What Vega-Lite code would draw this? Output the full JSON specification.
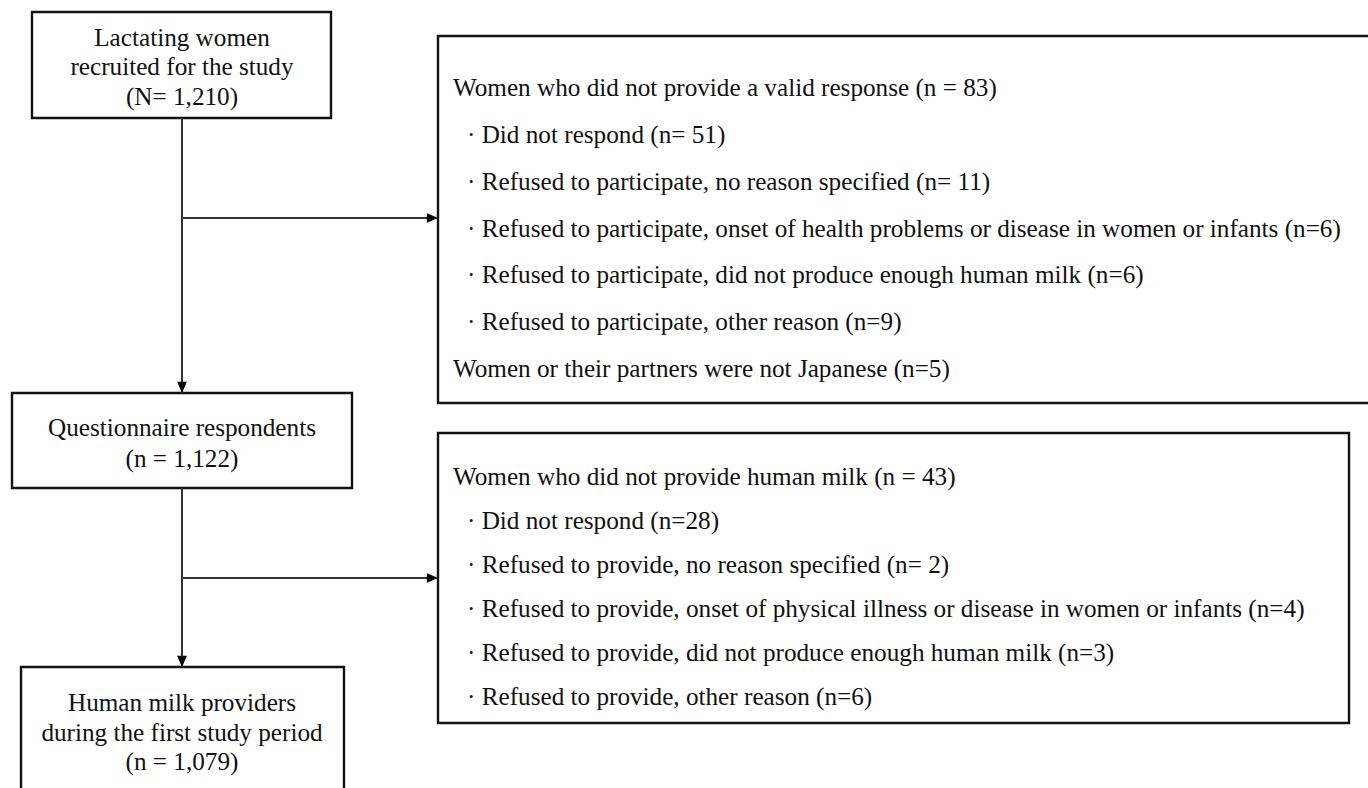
{
  "$schema": "https://vega.github.io/schema/vega-lite/v6.json",
  "width": 1368,
  "height": 788,
  "padding": 0,
  "autosize": {"type": "none"},
  "background": "white",
  "config": {"view": {"stroke": null}},
  "datasets": {
    "boxes": [
      {"box": "recruited", "left": 32, "right": 331, "top": 12, "bottom": 118},
      {"box": "excluded1", "left": 438, "right": 1380, "top": 36, "bottom": 403},
      {"box": "respondents", "left": 12, "right": 352, "top": 393, "bottom": 488},
      {"box": "excluded2", "left": 438, "right": 1349, "top": 433, "bottom": 723},
      {"box": "providers", "left": 21, "right": 344, "top": 667, "bottom": 800}
    ],
    "edges": [
      {"from": "recruited", "x0": 182, "y0": 118, "x1": 182, "y1": 393},
      {"from": "recruited", "x0": 182, "y0": 218, "x1": 432, "y1": 218},
      {"from": "respondents", "x0": 182, "y0": 488, "x1": 182, "y1": 667},
      {"from": "respondents", "x0": 182, "y0": 578, "x1": 432, "y1": 578}
    ],
    "heads": [
      {"to": "excluded1", "hx": 432.5, "hy": 218, "dir": "right"},
      {"to": "respondents", "hx": 182, "hy": 387.5, "dir": "down"},
      {"to": "excluded2", "hx": 432.5, "hy": 578, "dir": "right"},
      {"to": "providers", "hx": 182, "hy": 661.5, "dir": "down"}
    ],
    "labels": [
      {"text": "Lactating women", "tx": 182, "ty": 38, "align": "center"},
      {"text": "recruited for the study", "tx": 182, "ty": 67, "align": "center"},
      {"text": "(N= 1,210)", "tx": 182, "ty": 97, "align": "center"},
      {"text": "Questionnaire respondents", "tx": 182, "ty": 428, "align": "center"},
      {"text": "(n = 1,122)", "tx": 182, "ty": 459, "align": "center"},
      {"text": "Human milk providers", "tx": 182, "ty": 703, "align": "center"},
      {"text": "during the first study period", "tx": 182, "ty": 733, "align": "center"},
      {"text": "(n = 1,079)", "tx": 182, "ty": 762, "align": "center"},
      {"text": "Women who did not provide a valid response (n = 83)", "tx": 453, "ty": 88, "align": "left"},
      {"text": "· Did not respond (n= 51)", "tx": 467, "ty": 135, "align": "left"},
      {"text": "· Refused to participate, no reason specified (n= 11)", "tx": 467, "ty": 182, "align": "left"},
      {"text": "· Refused to participate, onset of health problems or disease in women or infants (n=6)", "tx": 467, "ty": 229, "align": "left"},
      {"text": "· Refused to participate, did not produce enough human milk (n=6)", "tx": 467, "ty": 275, "align": "left"},
      {"text": "· Refused to participate, other reason (n=9)", "tx": 467, "ty": 322, "align": "left"},
      {"text": "Women or their partners were not Japanese (n=5)", "tx": 453, "ty": 369, "align": "left"},
      {"text": "Women who did not provide human milk (n = 43)", "tx": 453, "ty": 477, "align": "left"},
      {"text": "· Did not respond (n=28)", "tx": 467, "ty": 521, "align": "left"},
      {"text": "· Refused to provide, no reason specified (n= 2)", "tx": 467, "ty": 565, "align": "left"},
      {"text": "· Refused to provide, onset of physical illness or disease in women or infants (n=4)", "tx": 467, "ty": 609, "align": "left"},
      {"text": "· Refused to provide, did not produce enough human milk (n=3)", "tx": 467, "ty": 653, "align": "left"},
      {"text": "· Refused to provide, other reason (n=6)", "tx": 467, "ty": 697, "align": "left"}
    ]
  },
  "layer": [
    {
      "data": {"name": "boxes"},
      "mark": {"type": "rect", "fill": "white", "stroke": "#111111", "strokeWidth": 2.4},
      "encoding": {
        "x": {"field": "left", "type": "quantitative", "scale": {"domain": [0, 1368], "nice": false, "zero": false}, "axis": null},
        "x2": {"field": "right"},
        "y": {"field": "top", "type": "quantitative", "scale": {"domain": [0, 788], "reverse": true, "nice": false, "zero": false}, "axis": null},
        "y2": {"field": "bottom"}
      }
    },
    {
      "data": {"name": "edges"},
      "mark": {"type": "rule", "stroke": "#333333", "strokeWidth": 2},
      "encoding": {
        "x": {"field": "x0", "type": "quantitative"},
        "x2": {"field": "x1"},
        "y": {"field": "y0", "type": "quantitative"},
        "y2": {"field": "y1"}
      }
    },
    {
      "data": {"name": "heads"},
      "mark": {"type": "point", "filled": true, "color": "#000000", "opacity": 1, "size": 130},
      "encoding": {
        "x": {"field": "hx", "type": "quantitative"},
        "y": {"field": "hy", "type": "quantitative"},
        "shape": {
          "field": "dir",
          "type": "nominal",
          "scale": {"domain": ["right", "down"], "range": ["M-1,-0.85L1,0L-1,0.85Z", "M-0.85,-1L0,1L0.85,-1Z"]},
          "legend": null
        }
      }
    },
    {
      "data": {"name": "labels"},
      "transform": [{"filter": "datum.align === 'center'"}],
      "mark": {"type": "text", "align": "center", "baseline": "middle", "font": "Liberation Serif", "fontSize": 25.2, "color": "#111111"},
      "encoding": {
        "x": {"field": "tx", "type": "quantitative"},
        "y": {"field": "ty", "type": "quantitative"},
        "text": {"field": "text"}
      }
    },
    {
      "data": {"name": "labels"},
      "transform": [{"filter": "datum.align === 'left'"}],
      "mark": {"type": "text", "align": "left", "baseline": "middle", "font": "Liberation Serif", "fontSize": 25.2, "color": "#111111"},
      "encoding": {
        "x": {"field": "tx", "type": "quantitative"},
        "y": {"field": "ty", "type": "quantitative"},
        "text": {"field": "text"}
      }
    }
  ]
}
